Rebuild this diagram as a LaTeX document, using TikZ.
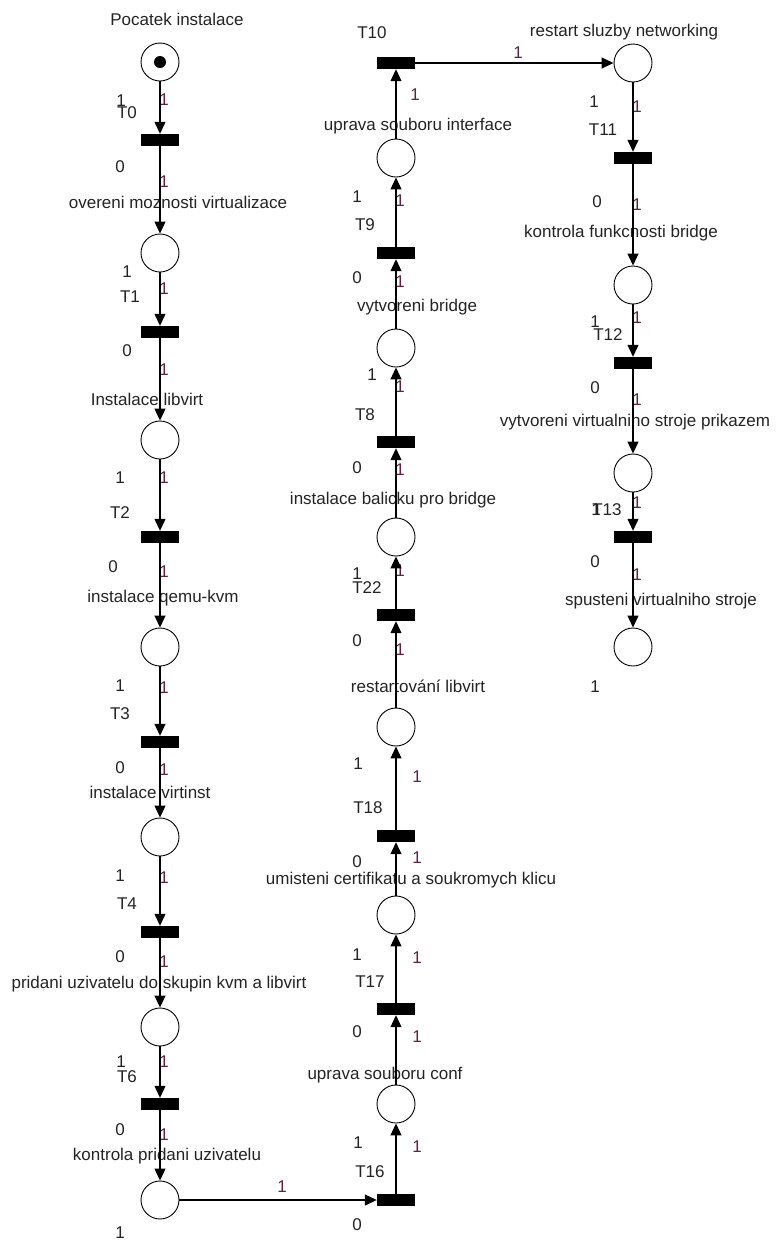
\documentclass[tikz,border=0pt]{standalone}
\usepackage{fontspec}
\setmainfont{Liberation Sans}
\usetikzlibrary{arrows.meta}
\definecolor{arcw}{RGB}{95,35,65}
\definecolor{lbl}{RGB}{35,35,35}
\begin{document}
\begin{tikzpicture}[x=1pt,y=-1pt,
  place/.style={circle,draw,fill=white,line width=0.9pt,minimum size=38pt,inner sep=0pt},
  trans/.style={rectangle,fill=black,minimum width=38pt,minimum height=12pt,inner sep=0pt},
  arc/.style={line width=1.1pt,-{Triangle[width=11pt,length=12pt]}},
  txt/.style={font=\fontsize{17}{19}\selectfont,text=lbl,inner sep=0pt},
  wt/.style={font=\fontsize{17}{19}\selectfont,text=arcw,inner sep=0pt},
  token/.style={circle,fill=black,minimum size=12pt,inner sep=0pt}]
\useasboundingbox (0,0) rectangle (776,1243);

% ---------- labels of places ----------
\node[txt] (lp0)  at (177,19)   {Pocatek instalace};
\node[txt] (lp1)  at (178,202)  {overeni moznosti virtualizace};
\node[txt] (lp2)  at (147,399)  {Instalace libvirt};
\node[txt] (lp3)  at (163,598)  {instalace qemu-kvm};
\node[txt] (lp4)  at (150,792)  {instalace virtinst};
\node[txt] (lp5)  at (159,984)  {pridani uzivatelu do skupin kvm a libvirt};
\node[txt] (lp6)  at (167,1156) {kontrola pridani uzivatelu};
\node[txt] (lp7)  at (385,1075) {uprava souboru conf};
\node[txt] (lp8)  at (411,880)  {umisteni certifikatu a soukromych klicu};
\node[txt] (lp9)  at (418,686)  {restartování libvirt};
\node[txt] (lp10) at (393,500)  {instalace balicku pro bridge};
\node[txt] (lp11) at (417,307)  {vytvoreni bridge};
\node[txt] (lp12) at (418,126)  {uprava souboru interface};
\node[txt] (lp13) at (624,32)   {restart sluzby networking};
\node[txt] (lp14) at (621,233)  {kontrola funkcnosti bridge};
\node[txt] (lp15) at (635,422)  {vytvoreni virtualniho stroje prikazem};
\node[txt] (lp16) at (661,601)  {spusteni virtualniho stroje};

% ---------- transition names ----------
\node[txt] (lt0)  at (127,113) {T0};
\node[txt] (lt1)  at (130,297) {T1};
\node[txt] (lt2)  at (120,513) {T2};
\node[txt] (lt3)  at (120,714) {T3};
\node[txt] (lt4)  at (127,904) {T4};
\node[txt] (lt6)  at (127,1077) {T6};
\node[txt] (lt16) at (370,1172) {T16};
\node[txt] (lt17) at (370,982) {T17};
\node[txt] (lt18) at (368,808) {T18};
\node[txt] (lt22) at (367,588) {T22};
\node[txt] (lt8)  at (365,415) {T8};
\node[txt] (lt9)  at (365,225) {T9};
\node[txt] (lt10) at (372,33)  {T10};
\node[txt] (lt11) at (603,130) {T11};
\node[txt] (lt12) at (608,335) {T12};
\node[txt] (lt13) at (607,510) {T13};

% ---------- counts beside places and transitions ----------
\node[txt] (c0a) at (121,101)  {1};
\node[txt] (c0b) at (120,167)  {0};
\node[txt] (c1a) at (127,272)  {1};
\node[txt] (c1b) at (127,351)  {0};
\node[txt] (c2a) at (120,478)  {1};
\node[txt] (c2b) at (113,567)  {0};
\node[txt] (c3a) at (120,686)  {1};
\node[txt] (c3b) at (120,768)  {0};
\node[txt] (c4a) at (120,876)  {1};
\node[txt] (c4b) at (120,957)  {0};
\node[txt] (c5a) at (121,1062) {1};
\node[txt] (c5b) at (120,1130) {0};
\node[txt] (c6a) at (120,1233) {1};
\node[txt] (c7a) at (358,1143) {1};
\node[txt] (c7b) at (357,1225) {0};
\node[txt] (c8a) at (357,955)  {1};
\node[txt] (c8b) at (357,1032) {0};
\node[txt] (c9a) at (358,764)  {1};
\node[txt] (c9b) at (357,862)  {0};
\node[txt] (c10a) at (357,574) {1};
\node[txt] (c10b) at (357,641) {0};
\node[txt] (c11a) at (372,375) {1};
\node[txt] (c11b) at (357,468) {0};
\node[txt] (c12a) at (357,197) {1};
\node[txt] (c12b) at (357,278) {0};
\node[txt] (c13a) at (594,102) {1};
\node[txt] (c13b) at (597,202) {0};
\node[txt] (c14a) at (595,322) {1};
\node[txt] (c14b) at (595,388) {0};
\node[txt] (c15a) at (596,510) {1};
\node[txt] (c15b) at (595,562) {0};
\node[txt] (c16a) at (595,687) {1};

% ---------- arc weights ----------
\node[wt] (w1)  at (164,100)  {1};
\node[wt] (w2)  at (164,182)  {1};
\node[wt] (w3)  at (164,289)  {1};
\node[wt] (w4)  at (164,370)  {1};
\node[wt] (w5)  at (164,478)  {1};
\node[wt] (w6)  at (164,572)  {1};
\node[wt] (w7)  at (164,688)  {1};
\node[wt] (w8)  at (164,770)  {1};
\node[wt] (w9)  at (164,878)  {1};
\node[wt] (w10) at (164,962)  {1};
\node[wt] (w11) at (164,1062) {1};
\node[wt] (w12) at (164,1135) {1};
\node[wt] (w13) at (282,1187) {1};
\node[wt] (w14) at (417,1147) {1};
\node[wt] (w15) at (417,1037) {1};
\node[wt] (w16) at (417,958)  {1};
\node[wt] (w17) at (417,858)  {1};
\node[wt] (w18) at (417,777)  {1};
\node[wt] (w19) at (400,650)  {1};
\node[wt] (w20) at (400,571)  {1};
\node[wt] (w21) at (400,470)  {1};
\node[wt] (w22) at (400,387)  {1};
\node[wt] (w23) at (400,282)  {1};
\node[wt] (w24) at (400,201)  {1};
\node[wt] (w25) at (415,95)   {1};
\node[wt] (w26) at (518,53)   {1};
\node[wt] (w27) at (637,107)  {1};
\node[wt] (w28) at (637,205)  {1};
\node[wt] (w29) at (637,318)  {1};
\node[wt] (w30) at (637,400)  {1};
\node[wt] (w31) at (637,503)  {1};
\node[wt] (w32) at (637,575)  {1};

% ---------- places ----------
\node[place] (p0)  at (160,62)   {};
\node[token] (tok) at (p0) {};
\node[place] (p1)  at (160,253)  {};
\node[place] (p2)  at (160,440)  {};
\node[place] (p3)  at (160,647)  {};
\node[place] (p4)  at (160,837)  {};
\node[place] (p5)  at (160,1027) {};
\node[place] (p6)  at (160,1200) {};
\node[place] (p7)  at (396,1104) {};
\node[place] (p8)  at (396,915)  {};
\node[place] (p9)  at (396,727)  {};
\node[place] (p10) at (396,537)  {};
\node[place] (p11) at (396,348)  {};
\node[place] (p12) at (396,158)  {};
\node[place] (p13) at (633,63)   {};
\node[place] (p14) at (633,285)  {};
\node[place] (p15) at (633,473)  {};
\node[place] (p16) at (633,647)  {};

% ---------- transitions ----------
\node[trans] (t0)  at (160,140)  {};
\node[trans] (t1)  at (160,332)  {};
\node[trans] (t2)  at (160,537)  {};
\node[trans] (t3)  at (160,742)  {};
\node[trans] (t4)  at (160,932)  {};
\node[trans] (t6)  at (160,1104) {};
\node[trans] (t16) at (396,1200) {};
\node[trans] (t17) at (396,1009) {};
\node[trans] (t18) at (396,836)  {};
\node[trans] (t22) at (396,615)  {};
\node[trans] (t8)  at (396,442)  {};
\node[trans] (t9)  at (396,253)  {};
\node[trans] (t10) at (396,63)   {};
\node[trans] (t11) at (633,158)  {};
\node[trans] (t12) at (633,363)  {};
\node[trans] (t13) at (633,537)  {};

% ---------- arcs ----------
\draw[arc] (p0) -- (t0);
\draw[arc] (t0) -- (p1);
\draw[arc] (p1) -- (t1);
\draw[arc] (t1) -- (p2);
\draw[arc] (p2) -- (t2);
\draw[arc] (t2) -- (p3);
\draw[arc] (p3) -- (t3);
\draw[arc] (t3) -- (p4);
\draw[arc] (p4) -- (t4);
\draw[arc] (t4) -- (p5);
\draw[arc] (p5) -- (t6);
\draw[arc] (t6) -- (p6);
\draw[arc] (p6) -- (t16);
\draw[arc] (t16) -- (p7);
\draw[arc] (p7) -- (t17);
\draw[arc] (t17) -- (p8);
\draw[arc] (p8) -- (t18);
\draw[arc] (t18) -- (p9);
\draw[arc] (p9) -- (t22);
\draw[arc] (t22) -- (p10);
\draw[arc] (p10) -- (t8);
\draw[arc] (t8) -- (p11);
\draw[arc] (p11) -- (t9);
\draw[arc] (t9) -- (p12);
\draw[arc] (p12) -- (t10);
\draw[arc] (t10) -- (p13);
\draw[arc] (p13) -- (t11);
\draw[arc] (t11) -- (p14);
\draw[arc] (p14) -- (t12);
\draw[arc] (t12) -- (p15);
\draw[arc] (p15) -- (t13);
\draw[arc] (t13) -- (p16);
\end{tikzpicture}
\end{document}
